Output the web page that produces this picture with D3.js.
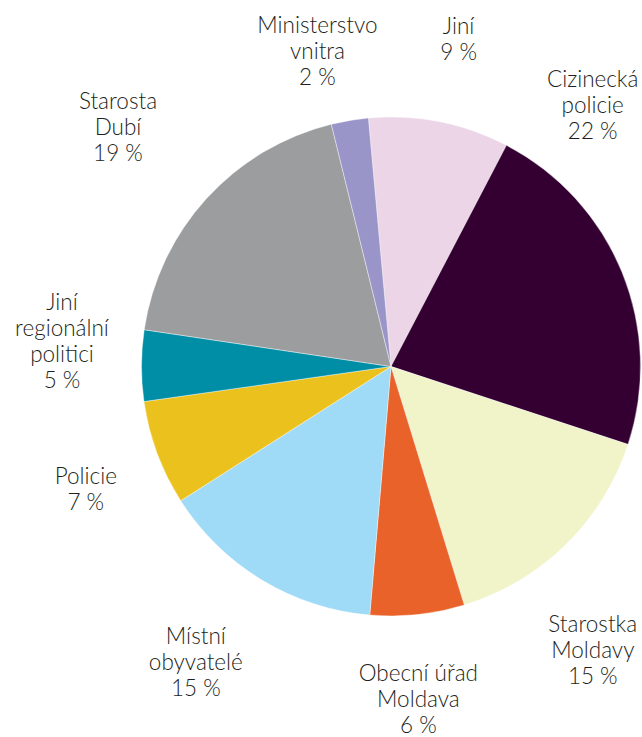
<!DOCTYPE html>
<html>
<head>
<meta charset="utf-8">
<script src="https://cdn.jsdelivr.net/npm/d3@7/dist/d3.min.js"></script>
<style>
  html, body { margin: 0; padding: 0; background: #ffffff; }
  svg { display: block; }
  text { font-family: Lato, "Open Sans", sans-serif; font-weight: 300; fill: #231F20; }
</style>
</head>
<body>
<svg id="chart" width="642" height="737"></svg>
<script>
// ---- data ----
const categories = ["Jiní", "Cizinecká policie", "Starostka Moldavy", "Obecní úřad Moldava",
  "Místní obyvatelé", "Policie", "Jiní regionální politici", "Starosta Dubí", "Ministerstvo vnitra"];
const labelLines = [["Jiní"], ["Cizinecká", "policie"], ["Starostka", "Moldavy"], ["Obecní úřad", "Moldava"],
  ["Místní", "obyvatelé"], ["Policie"], ["Jiní", "regionální", "politici"], ["Starosta", "Dubí"], ["Ministerstvo", "vnitra"]];
const values = [9.1, 22.4, 15.2, 6.1, 14.6, 6.8, 4.6, 18.8, 2.4];
const colors = ["#EBD5E7", "#330031", "#F1F3C9", "#E8622A", "#9FDAF6", "#EBC11D", "#008EA6", "#9C9D9F", "#9A95C9"];

// ---- layout ----
const width = 642, height = 737;
const cx = 391, cy = 366.5, R = 249.5;
const startDeg = -5.2;
// label placement: [angle shift in degrees from slice mid-angle, distance from centre]
const labelPlace = [[0.5, 334], [-30.2, 330], [9, 348], [1.4, 334], [2.3, 354], [-1.6, 329], [4.2, 330], [-1.1, 363], [-3.6, 324]];
const fontSize = 22.5, lineH = 26, capH = 16;

const svg = d3.select("#chart");
const g = svg.append("g").attr("transform", `translate(${cx},${cy})`);

const rad = Math.PI / 180;
const pie = d3.pie().sort(null).value(d => d)
  .startAngle(startDeg * rad).endAngle(startDeg * rad + 2 * Math.PI);
const arcs = pie(values);
const arc = d3.arc().innerRadius(0).outerRadius(R);

g.selectAll("path.slice").data(arcs).join("path")
  .attr("class", "slice")
  .attr("d", arc)
  .attr("fill", (d, i) => colors[i])
  .attr("stroke", "#ffffff")
  .attr("stroke-width", 0.4);

const labels = g.selectAll("text.lbl").data(arcs).join("text")
  .attr("class", "lbl")
  .attr("text-anchor", "middle")
  .style("font-size", fontSize + "px");

labels.each(function(d, i) {
  const mid = (d.startAngle + d.endAngle) / 2 + labelPlace[i][0] * rad;
  const r = labelPlace[i][1];
  const lx = Math.sin(mid) * r;
  const ly = -Math.cos(mid) * r;
  const lines = labelLines[i].concat([Math.round(values[i]) + " %"]);
  const n = lines.length;
  const b1 = ly - ((n - 1) * lineH - capH) / 2;
  const t = d3.select(this);
  lines.forEach((ln, k) => {
    t.append("tspan").attr("x", lx).attr("y", b1 + k * lineH).text(ln);
  });
});
</script>
</body>
</html>
